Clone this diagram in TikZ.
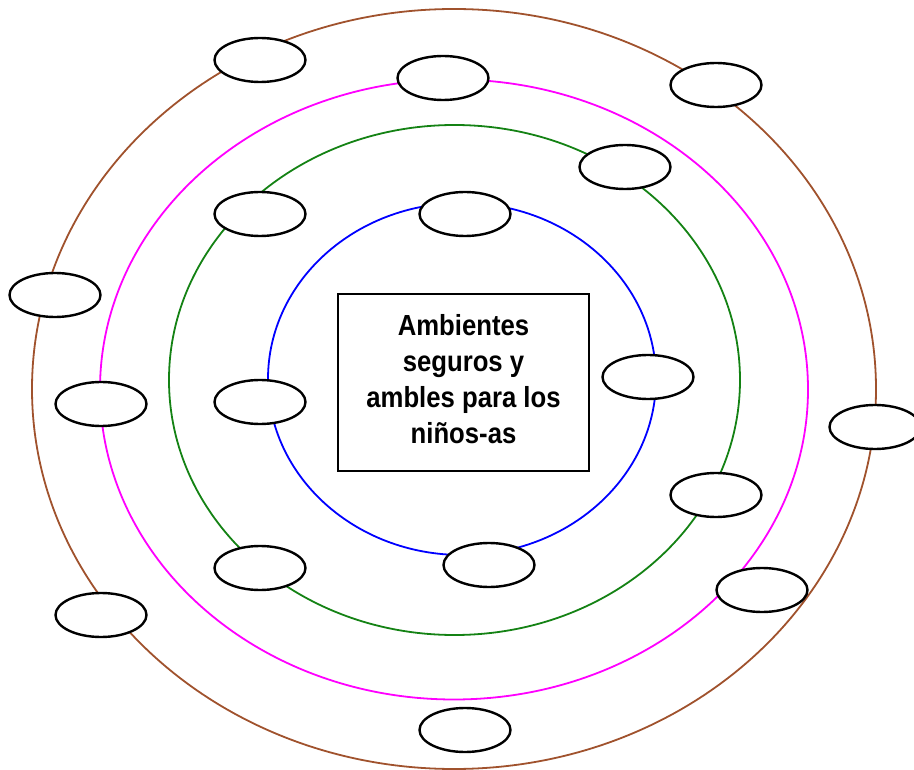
\documentclass[tikz,border=0pt]{standalone}
\usepackage{fontspec}
\setsansfont{Liberation Sans}
\usetikzlibrary{shapes.geometric}
\definecolor{ringbrown}{RGB}{160,82,45}
\definecolor{ringmagenta}{RGB}{255,0,255}
\definecolor{ringgreen}{RGB}{20,130,20}
\definecolor{ringblue}{RGB}{0,0,255}
\begin{document}
\begin{tikzpicture}[x=1pt,y=-1pt,
  ring/.style={line width=1.8pt},
  bubble/.style={ellipse,draw=black,fill=white,line width=2.4pt,minimum width=91pt,minimum height=44pt,inner sep=0pt,outer sep=0pt},
  titlebox/.style={rectangle,draw=black,fill=white,line width=1.8pt,minimum width=251pt,minimum height=177pt},
  titletext/.style={align=center,inner sep=0pt,yscale=1.13,transform shape,
    font=\sffamily\bfseries\fontsize{25.7}{32}\selectfont}]
\useasboundingbox (0,0) rectangle (914,770);
% rings
\draw[ring,ringbrown] (454,389) ellipse [x radius=422, y radius=380];
\draw[ring,ringmagenta] (454,389.5) ellipse [x radius=354, y radius=310];
\draw[ring,ringgreen] (454.5,380) ellipse [x radius=285.5, y radius=255];
\draw[ring,ringblue] (462,379) ellipse [x radius=194, y radius=176];
% bubbles
\node[bubble] (b1) at (260,60) {};
\node[bubble] (b2) at (443,78) {};
\node[bubble] (b3) at (716,85) {};
\node[bubble] (b4) at (625,167) {};
\node[bubble] (b5) at (260,214) {};
\node[bubble] (b6) at (465,214) {};
\node[bubble] (b7) at (55,295) {};
\node[bubble] (b8) at (101,404) {};
\node[bubble] (b9) at (260,402) {};
\node[bubble] (b10) at (648,377) {};
\node[bubble] (b11) at (875,427) {};
\node[bubble] (b12) at (716,495) {};
\node[bubble] (b13) at (260,568) {};
\node[bubble] (b14) at (489,565) {};
\node[bubble] (b15) at (762,590) {};
\node[bubble] (b16) at (101,615) {};
\node[bubble] (b17) at (465,730) {};
% centre box
\node[titlebox] (title) at (463.5,382.5) {};
\node[titletext] (titlelabel) at (463.5,379) {Ambientes\\seguros y\\ambles para los\\niños-as};
\end{tikzpicture}
\end{document}
